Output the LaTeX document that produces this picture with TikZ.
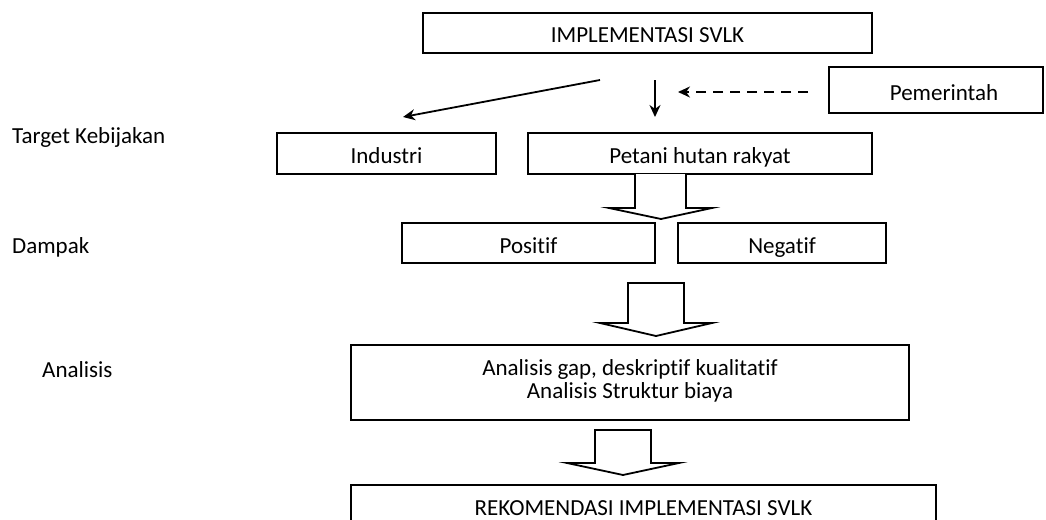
\documentclass[tikz,border=0pt]{standalone}
\usepackage{fontspec}
\setmainfont{Carlito}[RawFeature=-liga]
\usetikzlibrary{arrows.meta}
\tikzset{
  box/.style={draw, line width=1.8pt, inner sep=0pt, text height=22pt, text depth=2pt, font=\fontsize{23}{25}\selectfont},
  lbl/.style={inner sep=0pt, font=\fontsize{23}{25}\selectfont},
  thin/.style={line width=1.8pt, -{Stealth[length=12pt,width=11pt]}},
  blk/.style={draw, line width=1.8pt, fill=white, line join=miter},
}
\begin{document}
\begin{tikzpicture}[x=1pt,y=-1pt]
\useasboundingbox (0,0) rectangle (1046,519);
\clip (0,0) rectangle (1046,519);
% boxes
\node[box, minimum width=449pt, minimum height=40pt] (imp) at (647.5,33) {IMPLEMENTASI SVLK};
\node[box, minimum width=214pt, minimum height=46pt, text width=200pt, align=center] (pem) at (936,90) {\hspace*{16pt}Pemerintah};
\node[box, minimum width=219pt, minimum height=41pt] (ind) at (386.5,153.5) {Industri};
\node[box, minimum width=344pt, minimum height=41pt] (pet) at (700,153.5) {Petani hutan rakyat};
\node[box, minimum width=253pt, minimum height=40pt] (pos) at (528.5,243) {Positif};
\node[box, minimum width=208pt, minimum height=40pt] (neg) at (782,243) {Negatif};
\node[draw, line width=1.8pt, inner sep=0pt, minimum width=558pt, minimum height=75pt] (ana) at (630,382.5) {};
\node[lbl, anchor=base] (ana1) at (630,375) {Analisis gap, deskriptif kualitatif};
\node[lbl, anchor=base] (ana2) at (630,398) {Analisis Struktur biaya};
\node[box, minimum width=585pt, minimum height=40pt] (rek) at (643.5,505) {REKOMENDASI IMPLEMENTASI SVLK};
% side labels
\node[lbl, anchor=base west] (t1) at (12,143) {Target Kebijakan};
\node[lbl, anchor=base west] (t2) at (12,253) {Dampak};
\node[lbl, anchor=base west] (t3) at (42,377) {Analisis};
% thin arrows
\coordinate (s1) at (600,80);
\coordinate (e1) at (403,117);
\coordinate (s2) at (655,80);
\coordinate (e2) at (655,117);
\coordinate (s3) at (808,92);
\coordinate (e3) at (678,92);
\draw[thin] (s1) -- (e1);
\draw[thin] (s2) -- (e2);
\draw[thin, dash pattern=on 10pt off 7pt] (s3) -- (e3);
% block arrows
\draw[blk] (635,174) -- (635,208) -- (609,208) -- (661,219) -- (712,208) -- (686,208) -- (686,174);
\draw[blk] (628,283) -- (628,323) -- (600,323) -- (656,336) -- (712,323) -- (684,323) -- (684,283) -- cycle;
\draw[blk] (595,430) -- (595,463) -- (567,463) -- (623,475) -- (679,463) -- (651,463) -- (651,430) -- cycle;
\end{tikzpicture}
\end{document}
